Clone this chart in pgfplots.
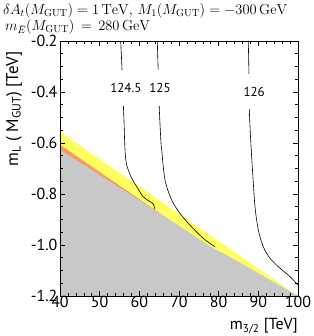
\documentclass[border=0pt]{standalone}
\usepackage{fix-cm}
\usepackage{pgfplots}
\pgfplotsset{compat=1.18}
\usepackage{fontspec}
\newfontfamily\pts{PT Sans}
\definecolor{grayr}{RGB}{200,200,200}
\definecolor{yel}{RGB}{255,255,95}
\definecolor{ora}{RGB}{255,150,100}
\begin{document}
\begin{tikzpicture}
\path[use as bounding box] (-60pt,-40pt) rectangle (253pt,296pt);
\begin{axis}[at={(0,0)}, anchor=south west, scale only axis, width=238pt, height=255pt,
 xmin=40, xmax=100, ymin=-1.2, ymax=-0.2,
 xtick={40,50,60,70,80,90,100}, ytick={-1.2,-1.0,-0.8,-0.6,-0.4,-0.2},
 minor x tick num=4, minor y tick num=3,
 tick align=inside, major tick length=5pt, minor tick length=3pt,
 tick style={black, line width=0.5pt},
 axis line style={line width=0.7pt},
 ticklabel style={font=\pts\fontsize{16}{18}\selectfont},
 /pgf/number format/assume math mode=true,
 yticklabel style={/pgf/number format/fixed, /pgf/number format/fixed zerofill, /pgf/number format/precision=1, xshift=1pt},
 xticklabel style={yshift=3pt},
 axis on top,
]
\addplot[draw=none, fill=yel] coordinates {(40,-0.556) (100,-1.2) (40,-1.2)} -- cycle;
\addplot[draw=none, fill=ora] coordinates {(40,-0.607) (65.5,-0.879) (65,-0.95) (40,-0.95)} -- cycle;
\addplot[draw=none, fill=grayr] coordinates {(40,-0.627) (64,-0.863) (77.8,-1.005) (83,-1.048) (100,-1.2) (40,-1.2)} -- cycle;
\addplot[black, line width=0.6pt, smooth, tension=0.5] coordinates {(55.3,-0.2) (55.6,-0.30) (55.85,-0.40) (56.1,-0.50) (56.39,-0.627) (56.81,-0.686) (58.07,-0.738) (59.33,-0.771) (60.99,-0.811) (62.69,-0.830) (63.52,-0.839) (63.95,-0.860)};
\addplot[black, line width=0.6pt, smooth, tension=0.5] coordinates {(64.53,-0.2) (64.78,-0.333) (65.03,-0.464) (65.46,-0.6) (65.64,-0.627) (66.47,-0.745) (68.16,-0.824) (70.25,-0.876) (72.77,-0.922) (76.12,-0.974) (79.07,-1.007)};
\addplot[black, line width=0.6pt, smooth, tension=0.5] coordinates {(87.47,-0.2) (87.64,-0.333) (87.72,-0.464) (88.07,-0.588) (88.58,-0.719) (89.16,-0.850) (89.99,-0.941) (91.25,-1.007) (92.94,-1.052) (95.46,-1.091) (97.98,-1.124) (100,-1.157)};
\node[fill=white, font=\pts\fontsize{13}{15}\selectfont, inner xsep=1pt, inner ysep=13pt] at (axis cs:56.6,-0.384) {124.5};
\node[fill=white, font=\pts\fontsize{13}{15}\selectfont, inner xsep=1pt, inner ysep=13pt] at (axis cs:65.2,-0.384) {125};
\node[fill=white, font=\pts\fontsize{13}{15}\selectfont, inner xsep=1pt, inner ysep=13pt] at (axis cs:88.95,-0.399) {126};
\end{axis}
\node[rotate=90, font=\pts\fontsize{17}{19}\selectfont] at (-46pt,187pt) {m\textsubscript{L} ( M\textsubscript{GUT}) [TeV]};
\node[anchor=base east, inner sep=0pt, font=\pts\fontsize{16}{18}\selectfont] at (238pt,-34pt) {m\textsubscript{3/2} [TeV]};
\node[anchor=base west, inner sep=0pt, font=\fontsize{14.5}{17}\selectfont] at (-57pt,281.5pt) {$\delta A_t(M_{\rm GUT}) = 1\,{\rm TeV},\, M_1(M_{\rm GUT}) = -300\,{\rm GeV}$};
\node[anchor=base west, inner sep=0pt, font=\fontsize{14.5}{17}\selectfont] at (-55pt,265.5pt) {$m_{\bar E}(M_{\rm GUT})\,=\,280\,{\rm GeV}$};
\end{tikzpicture}
\end{document}
